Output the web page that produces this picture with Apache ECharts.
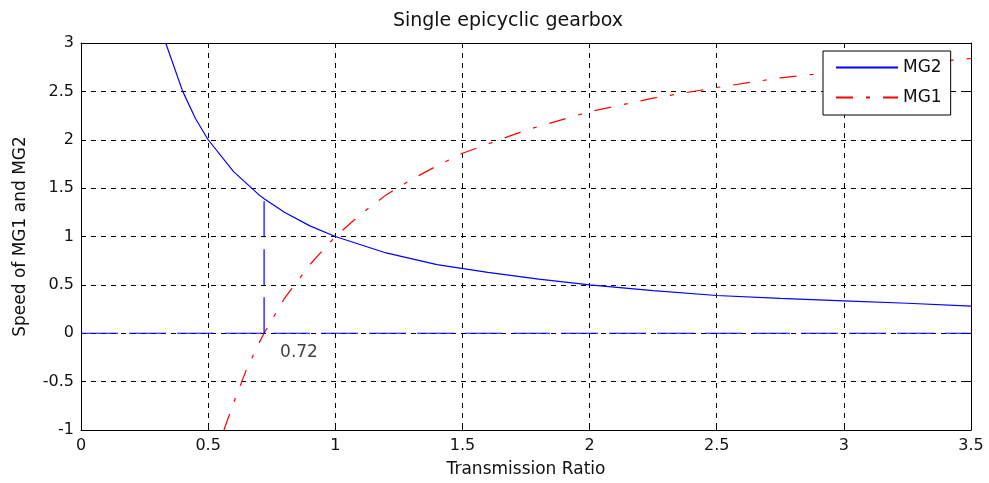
<!DOCTYPE html>
<html>
<head>
<meta charset="utf-8">
<script src="https://cdn.jsdelivr.net/npm/echarts@6/dist/echarts.min.js"></script>
<style>
html,body{margin:0;padding:0;background:#fff;}
#chart{width:989px;height:483px;}
</style>
</head>
<body>
<div id="chart"></div>
<script>
// ---- data ----
var mg2X = [0.333, 0.4, 0.45, 0.5, 0.6, 0.7, 0.72, 0.8, 0.9, 1.0, 1.2, 1.4, 1.6, 1.8, 2.0, 2.25, 2.5, 2.75, 3.0, 3.25, 3.5];
var mg2Y = [3.0, 2.5, 2.22, 2.0, 1.67, 1.43, 1.39, 1.25, 1.11, 1.0, 0.83, 0.71, 0.63, 0.56, 0.5, 0.44, 0.39, 0.36, 0.335, 0.31, 0.28];

var mg1X = [0.562, 0.6, 0.65, 0.7, 0.72, 0.8, 0.9, 1.0, 1.1, 1.2, 1.3, 1.4, 1.5, 1.75, 2.0, 2.25, 2.5, 2.75, 3.0, 3.25, 3.5];
var mg1Y = [-1.0, -0.72, -0.38, -0.1, 0.0, 0.36, 0.71, 1.0, 1.23, 1.43, 1.59, 1.73, 1.86, 2.1, 2.29, 2.43, 2.54, 2.64, 2.71, 2.78, 2.84];

var zeroLineX = [0, 3.5];
var zeroLineY = [0, 0];
var markerX = [0.72, 0.72];
var markerY = [0, 1.39];
var annotationText = '0.72';

var xTicks = {min: 0, max: 3.5, interval: 0.5};
var yTicks = {min: -1, max: 3, interval: 0.5};

function zip(a, b) { return a.map(function (v, i) { return [v, b[i]]; }); }

var FONT = 'DejaVu Sans';
var TXT = '#111';

var chart = echarts.init(document.getElementById('chart'), null, {renderer: 'canvas'});

function baseAxis(extra) {
  return Object.assign({
    type: 'value',
    axisLine: {show: true, onZero: false, lineStyle: {color: '#000', width: 1}},
    axisTick: {show: true, inside: true, length: 5, lineStyle: {color: '#000'}},
    splitLine: {show: false}
  }, extra);
}

var option = {
  animation: false,
  backgroundColor: '#fff',
  title: {
    text: 'Single epicyclic gearbox',
    left: 508,
    textAlign: 'center',
    top: 12,
    padding: 0,
    textStyle: {fontFamily: FONT, fontSize: 19, fontWeight: 'normal', color: TXT}
  },
  grid: {left: 81, right: 18, top: 43, bottom: 53, containLabel: false},
  legend: {
    data: [
      {name: 'MG2', itemStyle: {opacity: 0}},
      {name: 'MG1', itemStyle: {opacity: 0}}
    ],
    orient: 'vertical',
    left: 823,
    top: 51,
    itemWidth: 62,
    itemHeight: 14,
    itemGap: 13,
    padding: [8, 9, 9, 12],
    borderColor: '#000',
    borderWidth: 1,
    borderRadius: 0,
    backgroundColor: '#fff',
    textStyle: {fontFamily: FONT, fontSize: 17, color: TXT}
  },
  xAxis: [
    baseAxis({
      min: xTicks.min, max: xTicks.max, interval: xTicks.interval,
      position: 'bottom',
      name: 'Transmission Ratio',
      nameLocation: 'middle',
      nameGap: 31,
      nameTextStyle: {fontFamily: FONT, fontSize: 17, color: TXT},
      axisLabel: {fontFamily: FONT, fontSize: 16, color: TXT, margin: 8},
      splitLine: {show: true, lineStyle: {color: '#000', type: [5, 5], width: 1}}
    }),
    baseAxis({
      min: xTicks.min, max: xTicks.max, interval: xTicks.interval,
      position: 'top',
      axisLabel: {show: false}
    })
  ],
  yAxis: [
    baseAxis({
      min: yTicks.min, max: yTicks.max, interval: yTicks.interval,
      position: 'left',
      name: 'Speed of MG1 and MG2',
      nameLocation: 'middle',
      nameGap: 52,
      nameTextStyle: {fontFamily: FONT, fontSize: 17, color: TXT},
      axisLabel: {fontFamily: FONT, fontSize: 16, color: TXT, margin: 7},
      splitLine: {show: true, lineStyle: {color: '#000', type: [5, 5], width: 1}}
    }),
    baseAxis({
      min: yTicks.min, max: yTicks.max, interval: yTicks.interval,
      position: 'right',
      axisLabel: {show: false}
    })
  ],
  series: [
    {
      name: 'MG2',
      type: 'line',
      data: zip(mg2X, mg2Y),
      symbol: 'none',
      showSymbol: false,
      lineStyle: {color: '#0000ff', width: 1.2},
      itemStyle: {color: '#0000ff'},
      z: 3
    },
    {
      name: 'MG1',
      type: 'line',
      data: zip(mg1X, mg1Y),
      symbol: 'none',
      showSymbol: false,
      lineStyle: {color: '#ff0000', width: 1.2, type: [17, 13, 4, 13]},
      itemStyle: {color: '#ff0000'},
      z: 3
    },
    {
      name: 'zero',
      type: 'line',
      data: zip(zeroLineX, zeroLineY),
      symbol: 'none',
      showSymbol: false,
      lineStyle: {color: '#0000ff', width: 1.2, type: [37, 11]},
      z: 3
    },
    {
      name: 'marker',
      type: 'line',
      data: zip(markerX, markerY),
      symbol: 'none',
      showSymbol: false,
      lineStyle: {color: '#0000ff', width: 1.2, type: [36, 12]},
      z: 3
    },
    {
      name: 'annotation',
      type: 'scatter',
      data: [[markerX[0], markerY[0]]],
      symbolSize: 0,
      silent: true,
      label: {
        show: true,
        formatter: annotationText,
        position: [16, 11],
        align: 'left',
        verticalAlign: 'top',
        fontFamily: FONT,
        fontSize: 17,
        color: TXT
      },
      z: 4
    }
  ]
};
chart.setOption(option);
</script>
</body>
</html>
